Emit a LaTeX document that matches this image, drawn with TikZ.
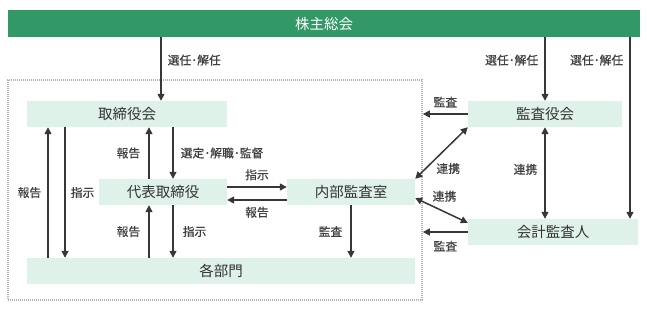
\documentclass[tikz,border=0pt]{standalone}
\usepackage{fontspec}
\setmainfont{Noto Sans CJK JP}
\newfontfamily\lblfont[FakeBold=0.4]{Noto Sans CJK JP}
\usepackage{tikz}
\usetikzlibrary{arrows.meta,positioning,calc}
\definecolor{meetgreen}{RGB}{50,152,102}
\definecolor{boxmint}{RGB}{223,242,234}
\definecolor{linegray}{RGB}{55,55,55}
\definecolor{framegray}{RGB}{180,180,180}

\begin{document}
\begin{tikzpicture}[x=1pt,y=-1pt,
    box/.style={fill=boxmint,minimum height=26pt,inner sep=0pt,text=black!80,font=\fontsize{14.5}{16}\selectfont},
    arr/.style={draw=linegray,line width=1.5pt,-{Triangle[length=7pt,width=7pt]}},
    dbl/.style={arr,{Triangle[length=7pt,width=7pt]}-{Triangle[length=7pt,width=7pt]}},
    lbl/.style={inner sep=0pt,text=black!75,font=\lblfont\fontsize{11.8}{13}\selectfont}]
            \useasboundingbox (0,0) rectangle (647,317);

            % Dashed frame
            \node[draw=framegray,line width=1.8pt,dash pattern=on 1.2pt off 0.8pt,minimum width=414pt,minimum height=220pt] (group) at (215,190) {};

            % Top bar
            \node[fill=meetgreen,minimum width=632pt,minimum height=27pt,inner sep=0pt,text=white,font=\fontsize{14.5}{16}\selectfont] (meet) at (324,23.5) {株主総会};

            % Boxes
            \node[box,minimum width=200pt] (board) at (127,114) {取締役会};
            \node[box,minimum width=128pt] (ceo) at (163,192) {代表取締役};
            \node[box,minimum width=128pt] (audit) at (351,192) {内部監査室};
            \node[box,minimum width=388pt] (depts) at (221,271) {各部門};
            \node[box,minimum width=154pt] (kansa) at (545,114) {監査役会};
            \node[box,minimum width=170pt] (kaikei) at (553,232) {会計監査人};

            % Arrow positions
            \coordinate (xtop) at (161,0);
            \coordinate (xkk) at (630,0);
            \coordinate (xa) at (48,0);
            \coordinate (xb) at (65,0);
            \coordinate (xc) at (149,0);
            \coordinate (xd) at (173,0);
            \coordinate (ya) at (0,187);
            \coordinate (yb) at (0,200);

            % From the top bar
            \draw[arr] (meet.south -| xtop) -- node[lbl,pos=.36,right=6pt] {選任･解任} (board.north -| xtop);
            \draw[arr] (meet.south -| kansa) -- node[lbl,pos=.36,left=6pt] {選任･解任} (kansa.north);
            \draw[arr] (meet.south -| xkk) -- node[lbl,pos=.126,left=6pt] {選任･解任} (kaikei.north -| xkk);

            % Left side
            \draw[arr] (depts.north -| xa) -- node[lbl,left=6pt] {報告} (board.south -| xa);
            \draw[arr] (board.south -| xb) -- node[lbl,right=5pt] {指示} (depts.north -| xb);
            \draw[arr] (ceo.north -| xc) -- node[lbl,left=8pt] {報告} (board.south -| xc);
            \draw[arr] (board.south -| xd) -- node[lbl,right=7pt] {選定･解職･監督} (ceo.north -| xd);
            \draw[arr] (depts.north -| xc) -- node[lbl,left=8pt] {報告} (ceo.south -| xc);
            \draw[arr] (ceo.south -| xd) -- node[lbl,right=9pt] {指示} (depts.north -| xd);

            % Middle
            \draw[arr] (ceo.east |- ya) -- node[lbl,above=6pt] {指示} (audit.west |- ya);
            \draw[arr] (audit.west |- yb) -- node[lbl,below=6pt] {報告} (ceo.east |- yb);
            \draw[arr] (audit.south) -- node[lbl,left=8pt] {監査} (depts.north -| audit.south);

            % Right side
            \draw[arr] (kansa.west) -- node[lbl,above=6pt] {監査} (kansa.west -| group.east);
            \draw[dbl] (kansa.south west) -- node[lbl,pos=.8,right=10pt] {連携} (audit.north east);
            \draw[dbl] (kaikei.north -| kansa) -- node[lbl,pos=.54,left=7pt] {連携} (kansa.south);
            \draw[dbl] ($(audit.east)+(0,6)$) -- node[lbl,above=8pt,xshift=3pt] {連携} ($(kaikei.north west)+(0,4)$);
            \draw[arr] (kaikei.west) -- node[lbl,below=8pt] {監査} (kaikei.west -| group.east);
        \end{tikzpicture}
\end{document}
